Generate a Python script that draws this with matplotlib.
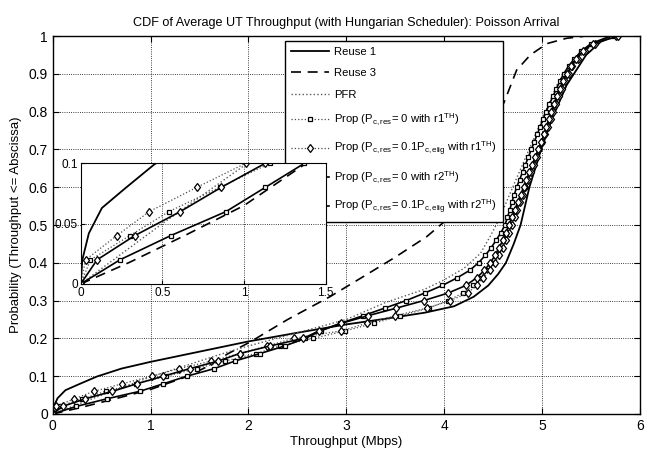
import matplotlib
matplotlib.use('Agg')
import matplotlib.pyplot as plt

plt.rcParams['font.family'] = ['Liberation Sans', 'DejaVu Sans']
plt.rcParams['mathtext.default'] = 'regular'

# ---- data ----
# Reuse 1 (solid, no markers)
reuse1_x = [0, 0.01, 0.05, 0.13, 0.27, 0.45, 0.7, 1.0, 1.5, 2.0, 2.5, 3.0, 3.4, 3.8,
            4.1, 4.3, 4.45, 4.55, 4.63, 4.71, 4.78, 4.87, 4.99, 5.1, 5.25, 5.45, 5.6, 5.75]
reuse1_y = [0, 0.02, 0.042, 0.063, 0.079, 0.099, 0.12, 0.138, 0.165, 0.192, 0.215, 0.237, 0.252, 0.268,
            0.285, 0.31, 0.34, 0.37, 0.40, 0.45, 0.50, 0.60, 0.70, 0.78, 0.87, 0.95, 0.985, 1.0]

# Reuse 3 (dashed)
reuse3_x = [0, 0.3, 0.65, 1.0, 1.37, 1.6, 1.78, 2.02, 2.4, 2.83, 3.17, 3.5, 3.82, 4.02,
            4.2, 4.4, 4.62, 4.74, 4.88, 5.05, 5.25, 5.45]
reuse3_y = [0, 0.018, 0.041, 0.065, 0.099, 0.128, 0.158, 0.191, 0.25, 0.31, 0.363, 0.415, 0.469, 0.513,
            0.58, 0.70, 0.83, 0.91, 0.95, 0.98, 0.994, 1.0]

# PFR (dotted)
pfr_x = [0, 0.5, 1.0, 1.5, 1.8, 2.0, 2.5, 3.0, 3.4, 3.8, 4.0, 4.2, 4.37, 4.47, 4.57,
         4.65, 4.75, 4.85, 4.95, 5.05, 5.15, 5.25, 5.4, 5.55, 5.75]
pfr_y = [0, 0.05, 0.098, 0.14, 0.165, 0.18, 0.215, 0.25, 0.295, 0.33, 0.355, 0.385, 0.425, 0.47, 0.52,
         0.57, 0.63, 0.69, 0.75, 0.81, 0.87, 0.91, 0.955, 0.985, 1.0]

# CDF levels shared by the four "Prop" curves
cdf_levels = [0.00, 0.02, 0.04, 0.06, 0.08, 0.10, 0.12, 0.14, 0.16, 0.18,
              0.20, 0.22, 0.24, 0.26, 0.28, 0.30, 0.32, 0.34, 0.36, 0.38,
              0.40, 0.42, 0.44, 0.46, 0.48, 0.50, 0.52, 0.54, 0.56, 0.58,
              0.60, 0.62, 0.64, 0.66, 0.68, 0.70, 0.72, 0.74, 0.76, 0.78,
              0.80, 0.82, 0.84, 0.86, 0.88, 0.90, 0.92, 0.94, 0.96, 0.98, 1.00]

prop_r1_zero = [0.00, 0.06, 0.30, 0.54, 0.85, 1.16, 1.47, 1.76, 2.08, 2.32,
                2.66, 2.99, 3.28, 3.55, 3.84, 4.04, 4.19, 4.29, 4.37, 4.43,
                4.48, 4.53, 4.57, 4.61, 4.64, 4.67, 4.70, 4.73, 4.76, 4.79,
                4.82, 4.85, 4.88, 4.91, 4.94, 4.97, 5.00, 5.02, 5.05, 5.08,
                5.10, 5.13, 5.16, 5.19, 5.22, 5.26, 5.30, 5.36, 5.43, 5.53, 5.74]
prop_r1_frac = [0.00, 0.03, 0.22, 0.42, 0.71, 1.01, 1.29, 1.62, 1.91, 2.19,
                2.46, 2.95, 3.21, 3.50, 3.82, 4.06, 4.24, 4.33, 4.40, 4.47,
                4.52, 4.56, 4.60, 4.63, 4.66, 4.69, 4.72, 4.745, 4.77, 4.80,
                4.83, 4.86, 4.89, 4.92, 4.95, 4.97, 5.00, 5.03, 5.06, 5.09,
                5.11, 5.14, 5.17, 5.20, 5.23, 5.27, 5.31, 5.37, 5.44, 5.54, 5.75]
prop_r2_zero = [0.00, 0.24, 0.55, 0.89, 1.13, 1.37, 1.65, 1.86, 2.12, 2.37,
                2.58, 2.74, 2.94, 3.17, 3.39, 3.61, 3.80, 3.98, 4.13, 4.26,
                4.35, 4.42, 4.48, 4.53, 4.58, 4.62, 4.645, 4.67, 4.69, 4.715,
                4.74, 4.77, 4.80, 4.83, 4.86, 4.89, 4.92, 4.95, 4.98, 5.01,
                5.04, 5.075, 5.11, 5.145, 5.18, 5.22, 5.27, 5.33, 5.40, 5.50, 5.70]
prop_r2_frac = [0.00, 0.10, 0.33, 0.61, 0.86, 1.13, 1.40, 1.69, 1.91, 2.22,
                2.56, 2.72, 2.95, 3.22, 3.51, 3.79, 4.04, 4.22, 4.33, 4.41,
                4.47, 4.52, 4.56, 4.60, 4.63, 4.66, 4.69, 4.72, 4.75, 4.78,
                4.81, 4.84, 4.87, 4.90, 4.93, 4.96, 4.99, 5.02, 5.04, 5.07,
                5.09, 5.12, 5.15, 5.18, 5.21, 5.25, 5.30, 5.35, 5.42, 5.52, 5.78]

labels = ['Reuse 1', 'Reuse 3', 'PFR',
          r'Prop (P$_{c,res}$= 0 with r1$^{TH}$)',
          r'Prop (P$_{c,res}$= 0.1P$_{c,elig}$ with r1$^{TH}$)',
          r'Prop (P$_{c,res}$= 0 with r2$^{TH}$)',
          r'Prop (P$_{c,res}$= 0.1P$_{c,elig}$ with r2$^{TH}$)']

x_ticks = [0, 1, 2, 3, 4, 5, 6]
y_ticks = [0, 0.1, 0.2, 0.3, 0.4, 0.5, 0.6, 0.7, 0.8, 0.9, 1]
y_ticklabels = ['0', '0.1', '0.2', '0.3', '0.4', '0.5', '0.6', '0.7', '0.8', '0.9', '1']


def draw_curves(ax):
    ax.plot(reuse1_x, reuse1_y, 'k-', lw=1.3)
    ax.plot(reuse3_x, reuse3_y, 'k--', lw=1.2, dashes=(6, 4))
    ax.plot(pfr_x, pfr_y, color='0.35', ls=':', lw=1.0)
    ax.plot(prop_r1_zero, cdf_levels, color='0.3', ls=':', lw=0.9,
            marker='s', ms=3.3, mfc='white', mec='k', mew=0.9)
    ax.plot(prop_r1_frac, cdf_levels, color='0.3', ls=':', lw=0.9,
            marker='d', ms=4.5, mfc='white', mec='k', mew=0.9)
    ax.plot(prop_r2_zero, cdf_levels, 'k-', lw=1.2,
            marker='s', ms=3.3, mfc='white', mec='k', mew=0.9)
    ax.plot(prop_r2_frac, cdf_levels, 'k-', lw=1.2,
            marker='d', ms=4.5, mfc='white', mec='k', mew=0.9)


fig = plt.figure(figsize=(6.55, 4.57), dpi=100)
ax = fig.add_axes([0.0805, 0.0941, 0.8966, 0.8271])
draw_curves(ax)
ax.set_xlim(0, 6)
ax.set_ylim(0, 1)
ax.set_xticks(x_ticks)
ax.set_xticklabels([str(t) for t in x_ticks])
ax.set_yticks(y_ticks)
ax.set_yticklabels(y_ticklabels)
ax.grid(True, ls=':', color='k', lw=0.6)
ax.tick_params(direction='in', top=True, right=True, length=4, labelsize=10)
for s in ax.spines.values():
    s.set_linewidth(1.0)
ax.set_title('CDF of Average UT Throughput (with Hungarian Scheduler): Poisson Arrival',
             fontsize=9.1, pad=7)
ax.set_xlabel('Throughput (Mbps)', fontsize=9.5, labelpad=2)
ax.set_ylabel('Probability (Throughput <= Abscissa)', fontsize=9.5, labelpad=5)

leg = ax.legend(labels, loc='upper left', bbox_to_anchor=(0.3955, 0.987),
                borderaxespad=0, fontsize=8.1, handlelength=3.4, labelspacing=1.05,
                handletextpad=0.5, fancybox=False, framealpha=1, edgecolor='k',
                borderpad=0.5)
leg.get_frame().set_linewidth(1.0)

# inset zoom on the low-throughput region
axin = fig.add_axes([0.1232, 0.3786, 0.374, 0.2641])
draw_curves(axin)
axin.set_xlim(0, 1.5)
axin.set_ylim(0, 0.1)
axin.set_xticks([0, 0.5, 1, 1.5])
axin.set_xticklabels(['0', '0.5', '1', '1.5'])
axin.set_yticks([0, 0.05, 0.1])
axin.set_yticklabels(['0', '0.05', '0.1'])
axin.grid(True, ls=':', color='k', lw=0.6)
axin.tick_params(direction='in', length=3, labelsize=8.5, pad=2)

fig.savefig('out.png', dpi=100)
